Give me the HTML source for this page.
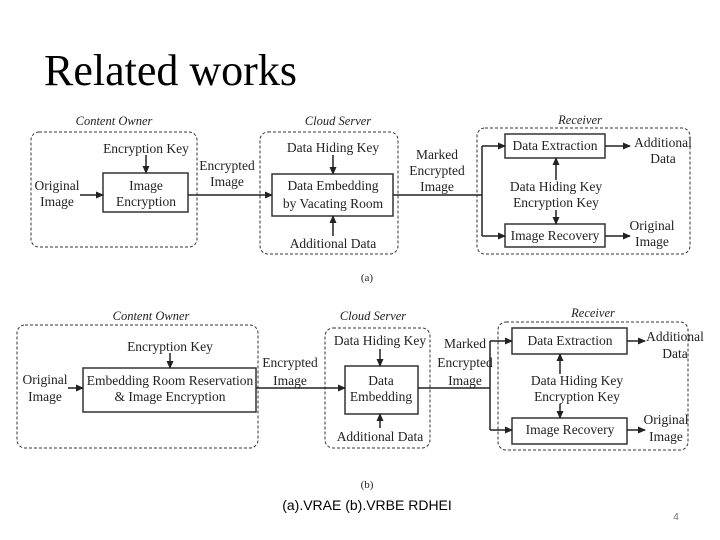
<!DOCTYPE html>
<html><head><meta charset="utf-8"><style>
body{margin:0;width:720px;height:540px;background:#fff;overflow:hidden;position:relative}
svg{position:absolute;left:0;top:0}
</style></head><body>
<svg width="720" height="540" viewBox="0 0 720 540" xmlns="http://www.w3.org/2000/svg">
<defs><marker id="a" markerWidth="8" markerHeight="8" refX="7" refY="4" orient="auto" markerUnits="userSpaceOnUse"><path d="M0,0.5 L8,4 L0,7.5z" fill="#222"/></marker></defs>
<text x="44" y="85" font-family="Liberation Serif,serif" font-size="44" fill="#000">Related works</text>
<g font-family="Liberation Serif,serif" font-size="13.5" fill="#222" text-anchor="middle">
<g fill="none" stroke="#333" stroke-dasharray="3,2" stroke-width="1">
<rect x="31" y="132" width="166" height="115" rx="8"/>
<rect x="260" y="132" width="138" height="122" rx="8"/>
<rect x="477" y="128" width="213" height="126" rx="8"/>
<rect x="17" y="325" width="241" height="123" rx="8"/>
<rect x="325" y="328" width="105" height="120" rx="8"/>
<rect x="498" y="322" width="190" height="128" rx="8"/>
</g>
<g fill="#fff" stroke="#333" stroke-width="1.5">
<rect x="103" y="173" width="85" height="39"/>
<rect x="272" y="174" width="121" height="42"/>
<rect x="505" y="134" width="100" height="24"/>
<rect x="505" y="224" width="100" height="23"/>
<rect x="83" y="368" width="173" height="44"/>
<rect x="345" y="366" width="73" height="48"/>
<rect x="512" y="328" width="115" height="26"/>
<rect x="512" y="418" width="115" height="26"/>
</g>
<g stroke="#222" stroke-width="1.5" fill="none" marker-end="url(#a)">
<line x1="146" y1="155" x2="146" y2="173"/>
<line x1="80" y1="195" x2="103" y2="195"/>
<line x1="188" y1="195" x2="272" y2="195"/>
<line x1="333" y1="155" x2="333" y2="174"/>
<line x1="333" y1="236" x2="333" y2="216"/>
<line x1="482" y1="146" x2="505" y2="146"/>
<line x1="482" y1="236" x2="505" y2="236"/>
<line x1="605" y1="146" x2="630" y2="146"/>
<line x1="605" y1="236" x2="630" y2="236"/>
<line x1="556" y1="180" x2="556" y2="158"/>
<line x1="556" y1="210" x2="556" y2="224"/>
<line x1="170" y1="353" x2="170" y2="368"/>
<line x1="68" y1="388" x2="83" y2="388"/>
<line x1="256" y1="388" x2="345" y2="388"/>
<line x1="380" y1="349" x2="380" y2="366"/>
<line x1="380" y1="428" x2="380" y2="414"/>
<line x1="490" y1="341" x2="512" y2="341"/>
<line x1="490" y1="430" x2="512" y2="430"/>
<line x1="627" y1="341" x2="645" y2="341"/>
<line x1="627" y1="430" x2="645" y2="430"/>
<line x1="560" y1="374" x2="560" y2="354"/>
<line x1="560" y1="404" x2="560" y2="418"/>
</g>
<g stroke="#222" stroke-width="1.5" fill="none">
<polyline points="393,195 482,195"/><line x1="482" y1="146" x2="482" y2="236"/>
<polyline points="418,388 490,388"/><line x1="490" y1="341" x2="490" y2="430"/>
</g>
<g font-style="italic" font-size="12.5"><text x="114" y="125">Content Owner</text><text x="338" y="125">Cloud Server</text><text x="580" y="124">Receiver</text>
<text x="151" y="320">Content Owner</text><text x="373" y="320">Cloud Server</text><text x="593" y="317">Receiver</text></g>
<text x="146" y="153">Encryption Key</text>
<text x="146" y="190">Image</text><text x="146" y="206">Encryption</text>
<text x="57" y="190">Original</text><text x="57" y="206">Image</text>
<text x="227" y="170">Encrypted</text><text x="227" y="186">Image</text>
<text x="333" y="152">Data Hiding Key</text>
<text x="333" y="190">Data Embedding</text><text x="333" y="208">by Vacating Room</text>
<text x="333" y="248">Additional Data</text>
<text x="437" y="159">Marked</text><text x="437" y="175">Encrypted</text><text x="437" y="191">Image</text>
<text x="555" y="150">Data Extraction</text><text x="555" y="240">Image Recovery</text>
<text x="663" y="147">Additional</text><text x="663" y="163">Data</text>
<text x="652" y="230">Original</text><text x="652" y="246">Image</text>
<text x="556" y="191">Data Hiding Key</text><text x="556" y="207">Encryption Key</text>
<text x="367" y="281" font-size="11">(a)</text>
<text x="170" y="351">Encryption Key</text>
<text x="170" y="385">Embedding Room Reservation</text><text x="170" y="401">&amp; Image Encryption</text>
<text x="45" y="384">Original</text><text x="45" y="401">Image</text>
<text x="290" y="367">Encrypted</text><text x="290" y="385">Image</text>
<text x="380" y="345">Data Hiding Key</text>
<text x="381" y="385">Data</text><text x="381" y="401">Embedding</text>
<text x="380" y="441">Additional Data</text>
<text x="465" y="348">Marked</text><text x="465" y="367">Encrypted</text><text x="465" y="385">Image</text>
<text x="570" y="345">Data Extraction</text><text x="570" y="434">Image Recovery</text>
<text x="675" y="341">Additional</text><text x="675" y="358">Data</text>
<text x="666" y="424">Original</text><text x="666" y="441">Image</text>
<text x="577" y="385">Data Hiding Key</text><text x="577" y="401">Encryption Key</text>
<text x="367" y="488" font-size="11">(b)</text>
</g>
<text x="367" y="510" font-family="Liberation Sans,sans-serif" font-size="14" text-anchor="middle" fill="#000">(a).VRAE (b).VRBE RDHEI</text>
<text x="676" y="520" font-family="Liberation Sans,sans-serif" font-size="10" text-anchor="middle" fill="#777">4</text>
</svg>
</body></html>
